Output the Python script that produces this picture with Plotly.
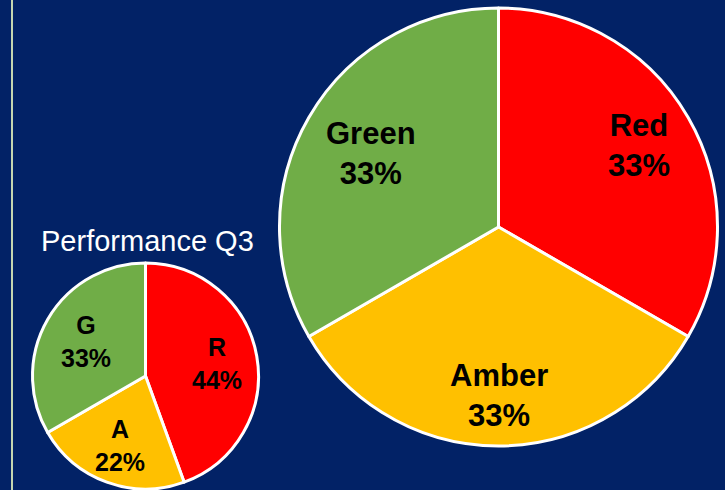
import math
import plotly.graph_objects as go

# ---- data ----
big_labels = ["Red", "Amber", "Green"]
big_values = [1, 1, 1]
small_labels = ["R", "A", "G"]
small_values = [4, 2, 3]
small_title = "Performance Q3"

colors = ["#FF0000", "#FFC000", "#70AD47"]
bg = "#022266"
W, H = 725, 490

big_dom = dict(x=[279 / W, 718 / W], y=[(H - 446) / H, (H - 8) / H])
small_dom = dict(x=[32 / W, 259 / W], y=[(H - 489) / H, (H - 263) / H])

fig = go.Figure()

for labels, values, dom in [(big_labels, big_values, big_dom),
                            (small_labels, small_values, small_dom)]:
    fig.add_trace(go.Pie(
        labels=labels, values=values,
        sort=False, direction="clockwise", rotation=0,
        marker=dict(colors=colors, line=dict(color="white", width=3)),
        textinfo="none",
        domain=dom, showlegend=False, hoverinfo="label+percent",
    ))


def add_labels(labels, values, dom, radial, size):
    x0, x1 = dom["x"][0] * W, dom["x"][1] * W
    y0, y1 = dom["y"][0] * H, dom["y"][1] * H
    cx, cy = (x0 + x1) / 2, (y0 + y1) / 2
    r = min(x1 - x0, y1 - y0) / 2
    total = sum(values)
    cum = 0
    for lab, v, f in zip(labels, values, radial):
        mid = (cum + v / 2) / total * 2 * math.pi
        cum += v
        px = cx + f * r * math.sin(mid)
        py = cy + f * r * math.cos(mid)
        pct = round(v / total * 100)
        fig.add_annotation(
            text=f"<b>{lab}</b><br><b>{pct}%</b>",
            x=px / W, y=py / H, xref="paper", yref="paper",
            showarrow=False, xanchor="center", yanchor="middle",
            font=dict(family="Liberation Sans, Arial", size=size, color="black"),
        )


add_labels(big_labels, big_values, big_dom, [0.74, 0.77, 0.67], 31)
add_labels(small_labels, small_values, small_dom, [0.64, 0.65, 0.61], 25)

fig.add_annotation(
    text=small_title, x=147 / W, y=(H - 241) / H, xref="paper", yref="paper",
    showarrow=False, xanchor="center", yanchor="middle",
    font=dict(family="Liberation Sans, Arial", size=29, color="white"),
)

fig.add_shape(type="line", xref="paper", yref="paper",
              x0=12 / W, x1=12 / W, y0=0, y1=1,
              line=dict(color="#C5D6B0", width=2))

fig.update_layout(
    width=W, height=H,
    margin=dict(l=0, r=0, t=0, b=0),
    paper_bgcolor=bg, plot_bgcolor=bg,
)

fig.write_html("out.html",
               config={"displayModeBar": False},
               post_script="document.body.style.margin='0';document.body.style.background='%s';" % bg)
